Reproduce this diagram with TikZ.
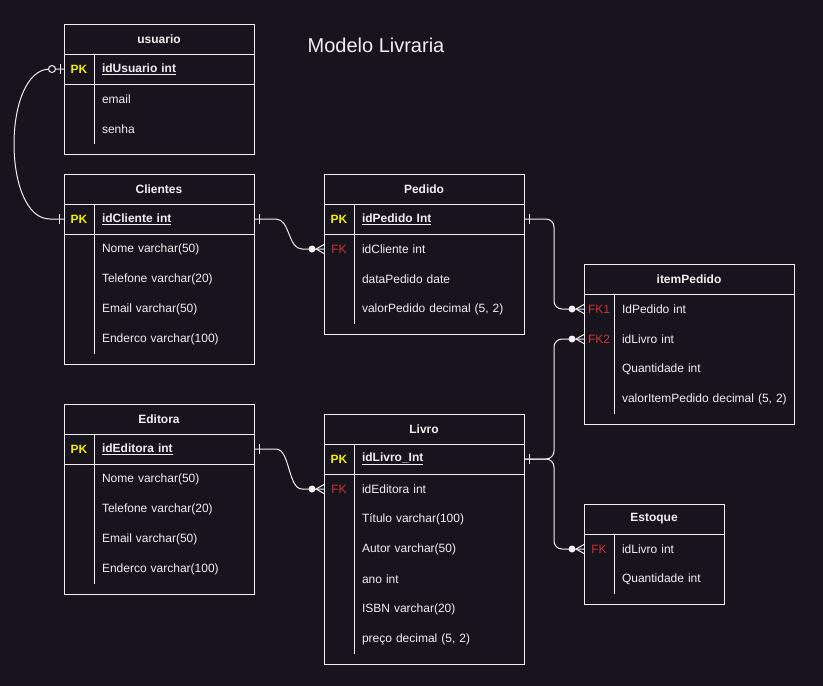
\documentclass[tikz,border=0pt]{standalone}
\usepackage{fontspec}
\setmainfont{Liberation Sans}
\usepackage{tikz}
\usetikzlibrary{ calc, positioning }
\definecolor{bg}{HTML}{18141D}
\definecolor{fg}{HTML}{F0F0F0}
\definecolor{pkyellow}{HTML}{F0F000}
\definecolor{fkred}{HTML}{D03434}
\tikzset{
tline/.style={draw=fg, line width=1pt}, % every rule of a table
head/.style={tline, minimum width=#1, minimum height=30pt, inner sep=0pt, outer sep=0pt,
  anchor=north west, font=\bfseries, text=fg}, % title row of a table
fld/.style={minimum height=30pt, text width=#1, inner xsep=8pt, inner ysep=0pt, outer sep=0pt,
  align=left, text=fg}, % one column of a table
fld/.default=144pt,
keycell/.style={minimum width=30pt, minimum height=30pt, inner sep=0pt, outer sep=0pt},
pk/.style={keycell, text=pkyellow, font=\bfseries},
fk/.style={keycell, text=fkred},
conn/.style={draw=fg, line width=1pt}, % relation lines
erOne/.pic={\draw[conn] (-5,-5) -- (-5,5);},
erZeroOne/.pic={\draw[conn] (-4,-5) -- (-4,5); \draw[conn, fill=bg] (-12,0) circle (3.5pt);},
erMany/.pic={\draw[conn] (-8,0) -- (0,-4.5) (-8,0) -- (0,4.5); \fill[fg] (-12,0) circle (3.5pt);},
}

\begin{document}
\fontsize{12}{14}\selectfont
\begin{tikzpicture}[x=1pt, y=-1pt]% one unit = one pixel, y grows downwards
  \fill[bg, use as bounding box] (0,0) rectangle (823,686);

  \node[font=\fontsize{20}{24}\selectfont, text=fg] (title) at (376,45) {Modelo Livraria};

  % usuario
  \node[head=190pt] (usr) at (64,24) {usuario};
  \node[fld, anchor=north west, font=\bfseries] (usr-1) at ([xshift=30pt]usr.south west) {\underline{idUsuario int}};
  \node[pk, left=0pt of usr-1] (usr-k1) {PK};
  \foreach \f [count=\i from 2, evaluate=\i as \j using int(\i-1)] in {email, senha}
    \node[fld, below=0pt of usr-\j] (usr-\i) {\f};
  \draw[tline] (usr.north west) rectangle ([yshift=-10pt]usr-3.south east);
  \draw[tline] (usr-k1.south west) -- (usr-1.south east);
  \draw[tline] (usr-1.north west) -- (usr-3.south west);

  % Clientes
  \node[head=190pt] (cli) at (64,174) {Clientes};
  \node[fld, anchor=north west, font=\bfseries] (cli-1) at ([xshift=30pt]cli.south west) {\underline{idCliente int}};
  \node[pk, left=0pt of cli-1] (cli-k1) {PK};
  \foreach \f [count=\i from 2, evaluate=\i as \j using int(\i-1)] in
    {Nome varchar(50), Telefone varchar(20), Email varchar(50), Enderco varchar(100)}
    \node[fld, below=0pt of cli-\j] (cli-\i) {\f};
  \draw[tline] (cli.north west) rectangle ([yshift=-10pt]cli-5.south east);
  \draw[tline] (cli-k1.south west) -- (cli-1.south east);
  \draw[tline] (cli-1.north west) -- (cli-5.south west);

  % Pedido
  \node[head=200pt] (ped) at (324,174) {Pedido};
  \node[fld=154pt, anchor=north west, font=\bfseries] (ped-1) at ([xshift=30pt]ped.south west) {\underline{idPedido Int}};
  \node[pk, left=0pt of ped-1] (ped-k1) {PK};
  \node[fld=154pt, below=0pt of ped-1] (ped-2) {idCliente int};
  \node[fk, left=0pt of ped-2] (ped-k2) {FK};
  \foreach \f [count=\i from 3, evaluate=\i as \j using int(\i-1)] in
    {dataPedido date, {valorPedido decimal (5, 2)}}
    \node[fld=154pt, below=0pt of ped-\j] (ped-\i) {\f};
  \draw[tline] (ped.north west) rectangle ([yshift=-10pt]ped-4.south east);
  \draw[tline] (ped-k1.south west) -- (ped-1.south east);
  \draw[tline] (ped-1.north west) -- (ped-4.south west);

  % itemPedido
  \node[head=210pt] (itm) at (584,264) {itemPedido};
  \node[fld=164pt, anchor=north west] (itm-1) at ([xshift=30pt]itm.south west) {IdPedido int};
  \node[fk, left=0pt of itm-1] (itm-k1) {FK1};
  \node[fld=164pt, below=0pt of itm-1] (itm-2) {idLivro int};
  \node[fk, left=0pt of itm-2] (itm-k2) {FK2};
  \foreach \f [count=\i from 3, evaluate=\i as \j using int(\i-1)] in
    {Quantidade int, {\mbox{valorItemPedido decimal (5, 2)}}}
    \node[fld=164pt, below=0pt of itm-\j] (itm-\i) {\f};
  \draw[tline] (itm.north west) rectangle ([yshift=-10pt]itm-4.south east);
  \draw[tline] (itm-1.north west) -- (itm-4.south west);

  % Editora
  \node[head=190pt] (edi) at (64,404) {Editora};
  \node[fld, anchor=north west, font=\bfseries] (edi-1) at ([xshift=30pt]edi.south west) {\underline{idEditora int}};
  \node[pk, left=0pt of edi-1] (edi-k1) {PK};
  \foreach \f [count=\i from 2, evaluate=\i as \j using int(\i-1)] in
    {Nome varchar(50), Telefone varchar(20), Email varchar(50), Enderco varchar(100)}
    \node[fld, below=0pt of edi-\j] (edi-\i) {\f};
  \draw[tline] (edi.north west) rectangle ([yshift=-10pt]edi-5.south east);
  \draw[tline] (edi-k1.south west) -- (edi-1.south east);
  \draw[tline] (edi-1.north west) -- (edi-5.south west);

  % Livro
  \node[head=200pt] (liv) at (324,414) {Livro};
  \node[fld=154pt, anchor=north west, font=\bfseries] (liv-1) at ([xshift=30pt]liv.south west) {\underline{idLivro\_Int}};
  \node[pk, left=0pt of liv-1] (liv-k1) {PK};
  \node[fld=154pt, below=0pt of liv-1] (liv-2) {idEditora int};
  \node[fk, left=0pt of liv-2] (liv-k2) {FK};
  \foreach \f [count=\i from 3, evaluate=\i as \j using int(\i-1)] in
    {Título varchar(100), Autor varchar(50), ano int, ISBN varchar(20), {preço decimal (5, 2)}}
    \node[fld=154pt, below=0pt of liv-\j] (liv-\i) {\f};
  \draw[tline] (liv.north west) rectangle ([yshift=-10pt]liv-7.south east);
  \draw[tline] (liv-k1.south west) -- (liv-1.south east);
  \draw[tline] (liv-1.north west) -- (liv-7.south west);

  % Estoque
  \node[head=140pt] (est) at (584,504) {Estoque};
  \node[fld=94pt, anchor=north west] (est-1) at ([xshift=30pt]est.south west) {idLivro int};
  \node[fk, left=0pt of est-1] (est-k1) {FK};
  \node[fld=94pt, below=0pt of est-1] (est-2) {Quantidade int};
  \draw[tline] (est.north west) rectangle ([yshift=-10pt]est-2.south east);
  \draw[tline] (est-1.north west) -- (est-2.south west);

  % relations
  \draw[conn] (usr-k1.west) -- ++(-14,0) .. controls +(-48,0) and +(-48,0) .. ($(cli-k1.west)+(-14,0)$) -- (cli-k1.west);
  \draw[conn] (cli-1.east) -- ++(22,0) .. controls +(14,0) and +(-14,0) .. ($(ped-k2.west)+(-22,0)$) -- (ped-k2.west);
  \draw[conn] (edi-1.east) -- ++(22,0) .. controls +(14,0) and +(-14,0) .. ($(liv-k2.west)+(-22,0)$) -- (liv-k2.west);
  \draw[conn, rounded corners=8pt] (ped-1.east) -| ($(ped-1.east)!0.5!(itm-k1.west)$) |- (itm-k1.west);
  \draw[conn, rounded corners=8pt] (liv-1.east) -| ($(liv-1.east)!0.5!(itm-k2.west)$) |- (itm-k2.west);
  \draw[conn, rounded corners=8pt] (liv-1.east) -| ($(liv-1.east)!0.5!(est-k1.west)$) |- (est-k1.west);

  \pic at (usr-k1.west) {erZeroOne};
  \pic at (cli-k1.west) {erOne};
  \pic[xscale=-1] at (cli-1.east) {erOne};
  \pic at (ped-k2.west) {erMany};
  \pic[xscale=-1] at (ped-1.east) {erOne};
  \pic at (itm-k1.west) {erMany};
  \pic at (itm-k2.west) {erMany};
  \pic[xscale=-1] at (edi-1.east) {erOne};
  \pic at (liv-k2.west) {erMany};
  \pic[xscale=-1] at (liv-1.east) {erOne};
  \pic at (est-k1.west) {erMany};
\end{tikzpicture}
\end{document}
